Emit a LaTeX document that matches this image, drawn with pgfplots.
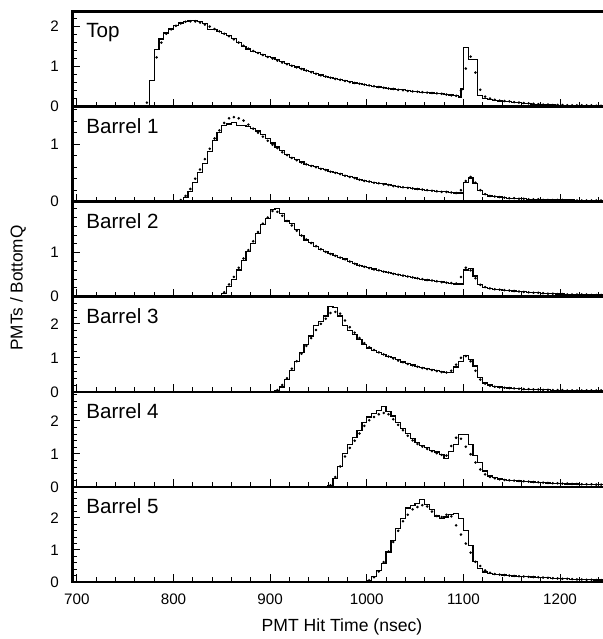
\documentclass[border=0pt]{standalone}
\usepackage{pgfplots}
\pgfplotsset{compat=1.18}
\usepackage{fontspec}
\setmainfont{Liberation Sans}
\tikzset{plabel/.style={anchor=base west, inner sep=0pt, xshift=6.75pt, yshift=-13.25pt, font=\fontsize{10.3}{12}\selectfont}}
\begin{document}
\begin{tikzpicture}
\pgfplotsset{
 panel/.style={
  scale only axis, width=272.75pt, height=47.54pt,
  xmin=695.5, xmax=1260, ymin=0,
  anchor=south west,
  axis line style={line width=1.3pt, black},
  xtick={700,800,...,1200}, minor xtick={700,720,...,1260},
  xticklabels={},
  minor ytick={0,0.2,...,3.01},
  tick pos=left, tick align=inside,
  tick style={line width=0.5pt, black},
  major tick length=4pt, minor tick length=2.3pt,
  ticklabel style={font=\fontsize{7.6}{8}\selectfont},
  yticklabel style={xshift=-3.3pt},
  xticklabel style={yshift=-2.2pt},
  /pgf/number format/assume math mode=true,
 },
 hist/.style={const plot, black, line width=0.6pt, no marks},
 dots/.style={only marks, mark=*, mark size=0.42pt, black},
}
% ---------------- Top ----------------
\begin{axis}[panel, at={(36.25pt,266.21pt)}, ymax=2.377, ytick={0,1,2}, yticklabels={0,1,2}]
\addplot[hist] coordinates {(695,0) (765,0) (770,0.03) (775,0.65) (780,1.42) (785,1.69) (790,1.84) (795,1.94) (800,2.03) (805,2.09) (810,2.13) (815,2.15) (820,2.15) (825,2.12) (830,2.08) (835,1.92) (840,1.93) (845,1.88) (850,1.83) (855,1.77) (860,1.70) (865,1.60) (870,1.50) (875,1.44) (880,1.38) (885,1.35) (890,1.31) (895,1.26) (900,1.22) (905,1.17) (910,1.12) (915,1.08) (920,1.03) (925,0.99) (930,0.95) (935,0.91) (940,0.87) (945,0.83) (950,0.79) (955,0.76) (960,0.73) (965,0.70) (970,0.68) (975,0.65) (980,0.62) (985,0.59) (990,0.57) (995,0.55) (1000,0.53) (1005,0.51) (1010,0.49) (1015,0.47) (1020,0.46) (1025,0.44) (1030,0.43) (1035,0.42) (1040,0.40) (1045,0.38) (1050,0.37) (1055,0.36) (1060,0.35) (1065,0.34) (1070,0.33) (1075,0.32) (1080,0.31) (1085,0.29) (1090,0.27) (1095,0.24) (1097.5,0.44) (1100,1.48) (1105,1.17) (1115,0.28) (1120,0.20) (1125,0.18) (1130,0.16) (1135,0.14) (1140,0.13) (1145,0.12) (1150,0.11) (1155,0.10) (1160,0.08) (1165,0.07) (1170,0.06) (1175,0.05) (1180,0.05) (1185,0.04) (1190,0.04) (1195,0.03) (1200,0.03) (1210,0.03) (1220,0.02) (1230,0.02) (1240,0.02) (1250,0.02) (1260,0.02)};
\addplot[dots] coordinates {(772.5,0.10) (782.5,1.23) (787.5,1.60) (792.5,1.82) (797.5,1.93) (802.5,2.02) (807.5,2.08) (812.5,2.12) (817.5,2.13) (822.5,2.13) (827.5,2.10) (832.5,2.05) (837.5,2.00) (842.5,1.94) (847.5,1.88) (852.5,1.82) (857.5,1.76) (862.5,1.68) (867.5,1.60) (872.5,1.52) (877.5,1.45) (882.5,1.39) (887.5,1.34) (892.5,1.29) (897.5,1.24) (902.5,1.20) (907.5,1.15) (912.5,1.10) (917.5,1.06) (922.5,1.02) (927.5,0.98) (932.5,0.94) (937.5,0.90) (942.5,0.86) (947.5,0.82) (952.5,0.78) (957.5,0.75) (962.5,0.72) (967.5,0.69) (972.5,0.67) (977.5,0.64) (982.5,0.61) (987.5,0.59) (992.5,0.57) (997.5,0.55) (1002.5,0.53) (1007.5,0.51) (1012.5,0.49) (1017.5,0.47) (1022.5,0.45) (1027.5,0.44) (1032.5,0.42) (1037.5,0.41) (1042.5,0.39) (1047.5,0.38) (1052.5,0.37) (1057.5,0.36) (1062.5,0.35) (1067.5,0.34) (1072.5,0.33) (1077.5,0.32) (1082.5,0.30) (1087.5,0.28) (1092.5,0.27) (1097.5,0.40) (1102.5,0.95) (1107.5,1.25) (1112.5,0.85) (1117.5,0.42) (1122.5,0.25) (1127.5,0.20) (1132.5,0.17) (1137.5,0.15) (1142.5,0.14) (1147.5,0.13) (1152.5,0.11) (1157.5,0.10) (1162.5,0.09) (1167.5,0.08) (1172.5,0.07) (1177.5,0.06) (1182.5,0.05) (1187.5,0.05) (1192.5,0.04) (1197.5,0.04) (1202.5,0.04) (1207.5,0.03) (1212.5,0.03) (1217.5,0.03) (1222.5,0.03) (1227.5,0.03) (1232.5,0.03) (1237.5,0.02) (1242.5,0.02)};
\node[plabel] at (rel axis cs:0,1) {Top};
\end{axis}
% ---------------- Barrel 1 ----------------
\begin{axis}[panel, at={(36.25pt,218.67pt)}, ymax=1.654, ytick={0,1}, yticklabels={0,1}]
\addplot[hist] coordinates {(695,0) (800,0) (805,0.02) (810,0.075) (815,0.17) (820,0.34) (825,0.51) (830,0.67) (835,0.87) (840,1.06) (845,1.20) (850,1.32) (855,1.35) (860,1.38) (865,1.33) (870,1.32) (875,1.31) (880,1.27) (885,1.23) (890,1.17) (895,1.10) (900,1.02) (905,0.95) (910,0.89) (915,0.82) (920,0.77) (925,0.74) (930,0.69) (935,0.65) (940,0.63) (945,0.61) (950,0.58) (955,0.56) (960,0.53) (965,0.51) (970,0.49) (975,0.46) (980,0.44) (985,0.42) (990,0.39) (995,0.37) (1000,0.35) (1005,0.34) (1010,0.32) (1015,0.31) (1020,0.30) (1025,0.28) (1030,0.26) (1035,0.25) (1040,0.24) (1045,0.23) (1050,0.22) (1055,0.21) (1060,0.20) (1065,0.19) (1070,0.18) (1075,0.18) (1080,0.17) (1085,0.16) (1090,0.15) (1095,0.15) (1100,0.34) (1105,0.41) (1110,0.31) (1115,0.19) (1120,0.12) (1125,0.10) (1130,0.09) (1135,0.08) (1140,0.07) (1145,0.06) (1150,0.06) (1155,0.05) (1160,0.05) (1165,0.04) (1170,0.04) (1175,0.04) (1180,0.03) (1200,0.03) (1215,0.02) (1260,0.02)};
\addplot[dots] coordinates {(807.5,0.03) (812.5,0.10) (817.5,0.22) (822.5,0.40) (827.5,0.56) (832.5,0.74) (837.5,0.92) (842.5,1.10) (847.5,1.24) (852.5,1.37) (857.5,1.45) (862.5,1.47) (867.5,1.45) (872.5,1.41) (877.5,1.34) (882.5,1.27) (887.5,1.20) (892.5,1.13) (897.5,1.06) (902.5,0.99) (907.5,0.93) (912.5,0.86) (917.5,0.81) (922.5,0.76) (927.5,0.72) (932.5,0.68) (937.5,0.65) (942.5,0.62) (947.5,0.60) (952.5,0.57) (957.5,0.55) (962.5,0.52) (967.5,0.50) (972.5,0.48) (977.5,0.45) (982.5,0.43) (987.5,0.41) (992.5,0.38) (997.5,0.36) (1002.5,0.35) (1007.5,0.33) (1012.5,0.32) (1017.5,0.30) (1022.5,0.29) (1027.5,0.27) (1032.5,0.26) (1037.5,0.25) (1042.5,0.24) (1047.5,0.23) (1052.5,0.22) (1057.5,0.21) (1062.5,0.20) (1067.5,0.19) (1072.5,0.18) (1077.5,0.17) (1082.5,0.17) (1087.5,0.16) (1092.5,0.15) (1097.5,0.20) (1102.5,0.36) (1107.5,0.43) (1112.5,0.33) (1117.5,0.20) (1122.5,0.13) (1127.5,0.10) (1132.5,0.09) (1137.5,0.08) (1142.5,0.07) (1147.5,0.06) (1152.5,0.06) (1157.5,0.05) (1162.5,0.05) (1167.5,0.04) (1172.5,0.04) (1177.5,0.04) (1182.5,0.03) (1187.5,0.03) (1192.5,0.03) (1197.5,0.03) (1202.5,0.03) (1207.5,0.02) (1212.5,0.02) (1217.5,0.02) (1222.5,0.02) (1227.5,0.02) (1232.5,0.02) (1237.5,0.02) (1242.5,0.02)};
\node[plabel] at (rel axis cs:0,1) {Barrel 1};
\end{axis}
% ---------------- Barrel 2 ----------------
\begin{axis}[panel, at={(36.25pt,171.13pt)}, ymax=2.161, ytick={0,1}, yticklabels={0,1}]
\addplot[hist] coordinates {(695,0) (840,0) (845,0.03) (850,0.08) (855,0.23) (860,0.39) (865,0.61) (870,0.83) (875,1.02) (880,1.21) (885,1.44) (890,1.65) (895,1.78) (900,1.99) (905,2.01) (910,1.90) (915,1.72) (920,1.67) (925,1.53) (930,1.40) (935,1.29) (940,1.23) (945,1.15) (950,1.08) (955,1.02) (960,0.98) (965,0.94) (970,0.90) (975,0.86) (980,0.81) (985,0.76) (990,0.71) (995,0.68) (1000,0.66) (1005,0.63) (1010,0.60) (1015,0.58) (1020,0.56) (1025,0.53) (1030,0.50) (1035,0.48) (1040,0.46) (1045,0.44) (1050,0.42) (1055,0.40) (1060,0.38) (1065,0.37) (1070,0.35) (1075,0.34) (1080,0.32) (1085,0.31) (1090,0.29) (1095,0.29) (1100,0.61) (1105,0.65) (1110,0.47) (1115,0.27) (1120,0.21) (1125,0.19) (1130,0.17) (1135,0.16) (1140,0.15) (1145,0.14) (1150,0.13) (1155,0.12) (1160,0.11) (1165,0.10) (1170,0.09) (1175,0.09) (1180,0.08) (1185,0.07) (1190,0.07) (1195,0.06) (1200,0.06) (1205,0.05) (1230,0.05) (1235,0.04) (1260,0.04)};
\addplot[dots] coordinates {(852.5,0.10) (857.5,0.28) (862.5,0.45) (867.5,0.66) (872.5,0.87) (877.5,1.06) (882.5,1.26) (887.5,1.47) (892.5,1.66) (897.5,1.80) (902.5,1.95) (907.5,1.93) (912.5,1.84) (917.5,1.72) (922.5,1.62) (927.5,1.50) (932.5,1.39) (937.5,1.30) (942.5,1.22) (947.5,1.15) (952.5,1.08) (957.5,1.02) (962.5,0.97) (967.5,0.93) (972.5,0.89) (977.5,0.85) (982.5,0.80) (987.5,0.75) (992.5,0.71) (997.5,0.68) (1002.5,0.65) (1007.5,0.62) (1012.5,0.60) (1017.5,0.57) (1022.5,0.55) (1027.5,0.52) (1032.5,0.50) (1037.5,0.48) (1042.5,0.46) (1047.5,0.44) (1052.5,0.42) (1057.5,0.40) (1062.5,0.38) (1067.5,0.37) (1072.5,0.35) (1077.5,0.33) (1082.5,0.32) (1087.5,0.31) (1092.5,0.30) (1097.5,0.45) (1102.5,0.66) (1107.5,0.60) (1112.5,0.42) (1117.5,0.27) (1122.5,0.22) (1127.5,0.19) (1132.5,0.17) (1137.5,0.16) (1142.5,0.15) (1147.5,0.14) (1152.5,0.13) (1157.5,0.12) (1162.5,0.11) (1167.5,0.10) (1172.5,0.09) (1177.5,0.09) (1182.5,0.08) (1187.5,0.07) (1192.5,0.07) (1197.5,0.06) (1202.5,0.06) (1207.5,0.05) (1212.5,0.05) (1217.5,0.05) (1222.5,0.05) (1227.5,0.05) (1232.5,0.04) (1237.5,0.04) (1242.5,0.04)};
\node[plabel] at (rel axis cs:0,1) {Barrel 2};
\end{axis}
% ---------------- Barrel 3 ----------------
\begin{axis}[panel, at={(36.25pt,123.58pt)}, ymax=2.796, ytick={0,1,2}, yticklabels={0,1,2}]
\addplot[hist] coordinates {(695,0) (900,0) (905,0.04) (910,0.14) (915,0.36) (920,0.63) (925,0.90) (930,1.15) (935,1.39) (940,1.64) (945,1.96) (950,2.08) (955,2.23) (960,2.52) (965,2.47) (970,2.23) (975,1.96) (980,1.81) (985,1.69) (990,1.54) (995,1.39) (1000,1.29) (1005,1.22) (1010,1.15) (1015,1.10) (1020,1.05) (1025,1.00) (1030,0.94) (1035,0.88) (1040,0.83) (1045,0.79) (1050,0.75) (1055,0.71) (1060,0.68) (1065,0.65) (1070,0.62) (1075,0.59) (1080,0.56) (1085,0.57) (1090,0.73) (1095,0.90) (1100,1.07) (1105,0.95) (1110,0.76) (1115,0.41) (1120,0.26) (1125,0.20) (1130,0.16) (1135,0.14) (1140,0.12) (1145,0.11) (1150,0.10) (1155,0.09) (1160,0.08) (1170,0.07) (1180,0.06) (1190,0.05) (1210,0.05) (1220,0.04) (1260,0.04)};
\addplot[dots] coordinates {(907.5,0.05) (912.5,0.20) (917.5,0.40) (922.5,0.68) (927.5,0.90) (932.5,1.12) (937.5,1.35) (942.5,1.58) (947.5,1.82) (952.5,2.00) (957.5,2.15) (962.5,2.32) (967.5,2.35) (972.5,2.30) (977.5,2.10) (982.5,1.90) (987.5,1.74) (992.5,1.58) (997.5,1.43) (1002.5,1.31) (1007.5,1.23) (1012.5,1.16) (1017.5,1.10) (1022.5,1.04) (1027.5,0.98) (1032.5,0.92) (1037.5,0.87) (1042.5,0.82) (1047.5,0.78) (1052.5,0.74) (1057.5,0.70) (1062.5,0.67) (1067.5,0.64) (1072.5,0.61) (1077.5,0.58) (1082.5,0.57) (1087.5,0.62) (1092.5,0.80) (1097.5,1.00) (1102.5,1.05) (1107.5,0.90) (1112.5,0.62) (1117.5,0.36) (1122.5,0.24) (1127.5,0.18) (1132.5,0.15) (1137.5,0.13) (1142.5,0.12) (1147.5,0.11) (1152.5,0.10) (1157.5,0.09) (1162.5,0.08) (1167.5,0.08) (1172.5,0.07) (1177.5,0.07) (1182.5,0.06) (1187.5,0.06) (1192.5,0.05) (1197.5,0.05) (1202.5,0.05) (1207.5,0.04) (1212.5,0.04) (1217.5,0.04) (1222.5,0.04) (1227.5,0.04) (1232.5,0.04) (1237.5,0.04) (1242.5,0.04)};
\node[plabel] at (rel axis cs:0,1) {Barrel 3};
\end{axis}
% ---------------- Barrel 4 ----------------
\begin{axis}[panel, at={(36.25pt,76.04pt)}, ymax=2.881, ytick={0,1,2}, yticklabels={0,1,2}]
\addplot[hist] coordinates {(695,0) (955,0) (960,0.03) (965,0.26) (970,0.61) (975,1.01) (980,1.29) (985,1.49) (990,1.70) (995,1.95) (1000,2.12) (1005,2.22) (1010,2.32) (1015,2.43) (1020,2.28) (1025,2.15) (1030,1.95) (1035,1.78) (1040,1.62) (1045,1.47) (1050,1.34) (1055,1.26) (1060,1.19) (1065,1.11) (1070,1.06) (1075,0.99) (1080,0.86) (1085,1.07) (1090,1.29) (1095,1.58) (1100,1.58) (1105,1.29) (1110,0.94) (1115,0.74) (1120,0.48) (1125,0.33) (1130,0.28) (1135,0.24) (1140,0.22) (1145,0.20) (1150,0.19) (1155,0.18) (1160,0.17) (1165,0.16) (1170,0.15) (1175,0.14) (1180,0.13) (1185,0.12) (1190,0.11) (1195,0.10) (1200,0.10) (1205,0.09) (1215,0.09) (1220,0.08) (1235,0.08) (1240,0.07) (1260,0.07)};
\addplot[dots] coordinates {(962.5,0.05) (967.5,0.30) (972.5,0.62) (977.5,0.92) (982.5,1.18) (987.5,1.40) (992.5,1.62) (997.5,1.85) (1002.5,2.02) (1007.5,2.12) (1012.5,2.20) (1017.5,2.24) (1022.5,2.20) (1027.5,2.05) (1032.5,1.88) (1037.5,1.72) (1042.5,1.55) (1047.5,1.41) (1052.5,1.30) (1057.5,1.22) (1062.5,1.15) (1067.5,1.08) (1072.5,1.02) (1077.5,0.97) (1082.5,0.95) (1087.5,1.24) (1092.5,1.49) (1097.5,1.46) (1102.5,1.22) (1107.5,0.99) (1112.5,0.74) (1117.5,0.53) (1122.5,0.38) (1127.5,0.30) (1132.5,0.26) (1137.5,0.23) (1142.5,0.21) (1147.5,0.20) (1152.5,0.19) (1157.5,0.18) (1162.5,0.17) (1167.5,0.16) (1172.5,0.15) (1177.5,0.14) (1182.5,0.13) (1187.5,0.12) (1192.5,0.11) (1197.5,0.11) (1202.5,0.10) (1207.5,0.10) (1212.5,0.09) (1217.5,0.09) (1222.5,0.08) (1227.5,0.08) (1232.5,0.08) (1237.5,0.07) (1242.5,0.07)};
\node[plabel] at (rel axis cs:0,1) {Barrel 4};
\end{axis}
% ---------------- Barrel 5 ----------------
\begin{axis}[panel, at={(36.25pt,28.5pt)}, ymax=2.97, ytick={0,1,2}, yticklabels={0,1,2},
  xticklabels={700,800,900,1000,1100,1200}]
\addplot[hist] coordinates {(695,0) (995,0) (1000,0.05) (1005,0.16) (1010,0.36) (1015,0.57) (1020,0.94) (1025,1.30) (1030,1.67) (1035,1.98) (1040,2.31) (1045,2.38) (1050,2.45) (1055,2.58) (1060,2.42) (1065,2.27) (1070,2.06) (1075,1.98) (1080,2.03) (1085,2.10) (1090,2.14) (1095,1.98) (1100,1.61) (1105,1.15) (1110,0.63) (1115,0.42) (1120,0.31) (1125,0.26) (1130,0.24) (1135,0.23) (1140,0.22) (1145,0.20) (1150,0.19) (1155,0.18) (1160,0.17) (1165,0.16) (1170,0.155) (1175,0.15) (1180,0.14) (1185,0.13) (1190,0.12) (1195,0.11) (1200,0.10) (1205,0.10) (1210,0.09) (1215,0.08) (1220,0.08) (1225,0.07) (1230,0.07) (1235,0.06) (1240,0.06) (1260,0.06)};
\addplot[dots] coordinates {(1002.5,0.05) (1007.5,0.15) (1012.5,0.33) (1017.5,0.62) (1022.5,0.95) (1027.5,1.25) (1032.5,1.60) (1037.5,1.90) (1042.5,2.10) (1047.5,2.27) (1052.5,2.34) (1057.5,2.40) (1062.5,2.36) (1067.5,2.20) (1072.5,2.06) (1077.5,2.03) (1082.5,2.10) (1087.5,2.05) (1092.5,1.77) (1097.5,1.48) (1102.5,1.20) (1107.5,0.92) (1112.5,0.63) (1117.5,0.50) (1122.5,0.36) (1127.5,0.29) (1132.5,0.25) (1137.5,0.23) (1142.5,0.22) (1147.5,0.20) (1152.5,0.19) (1157.5,0.18) (1162.5,0.17) (1167.5,0.16) (1172.5,0.155) (1177.5,0.15) (1182.5,0.14) (1187.5,0.13) (1192.5,0.12) (1197.5,0.11) (1202.5,0.10) (1207.5,0.10) (1212.5,0.09) (1217.5,0.08) (1222.5,0.08) (1227.5,0.07) (1232.5,0.07) (1237.5,0.06) (1242.5,0.06)};
\node[plabel] at (rel axis cs:0,1) {Barrel 5};
\end{axis}
\node[font=\fontsize{8.8}{10}\selectfont] at (171pt,6pt) {PMT Hit Time (nsec)};
\node[font=\fontsize{8.6}{10}\selectfont, rotate=90] at (9pt,175.5pt) {PMTs / BottomQ};
\pgfresetboundingbox
\useasboundingbox (0,0) rectangle (301pt,319.5pt);
\end{tikzpicture}
\end{document}
